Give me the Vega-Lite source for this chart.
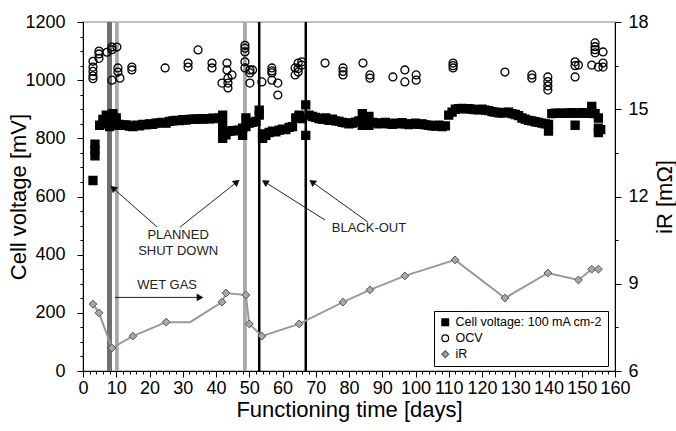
{
  "$schema": "https://vega.github.io/schema/vega-lite/v6.json",
  "width": 532,
  "height": 349,
  "autosize": {"type": "none"},
  "padding": {"left": 83, "top": 22, "right": 61, "bottom": 60},
  "background": "white",
  "config": {
    "font": "Liberation Sans",
    "view": {"stroke": "#aaaaaa", "strokeWidth": 1.5},
    "axis": {
      "domainColor": "black", "tickColor": "black", "labelColor": "black", "titleColor": "black",
      "labelFont": "Liberation Sans", "titleFont": "Liberation Sans",
      "labelFontSize": 18, "titleFontSize": 22, "titleFontWeight": "normal",
      "grid": false, "labelOverlap": false, "labelFlush": false
    },
    "legend": {
      "orient": "none", "legendX": 351, "legendY": 289, "padding": 5,
      "strokeColor": "black", "fillColor": "white", "labelFont": "Liberation Sans",
      "labelFontSize": 12.5, "labelColor": "black", "symbolSize": 45, "rowPadding": 3,
      "symbolStrokeWidth": 1.2, "labelLimit": 300, "title": null, "cornerRadius": 0
    }
  },
  "datasets": {
    "m": [
      {"day":3.0,"value":655,"series":"CV"},
      {"day":3.6,"value":740,"series":"CV"},{"day":3.6,"value":760,"series":"CV"},{"day":3.6,"value":780,"series":"CV"},
      {"day":5,"value":845,"series":"CV"},{"day":6,"value":850,"series":"CV"},{"day":6,"value":865,"series":"CV"},
      {"day":7,"value":855,"series":"CV"},{"day":7,"value":880,"series":"CV"},
      {"day":8,"value":860,"series":"CV"},{"day":8,"value":875,"series":"CV"},{"day":8,"value":840,"series":"CV"},
      {"day":9,"value":850,"series":"CV"},{"day":9,"value":885,"series":"CV"},
      {"day":10,"value":845,"series":"CV"},{"day":10,"value":870,"series":"CV"},
      {"day":11,"value":848,"series":"CV"},{"day":12,"value":845,"series":"CV"},{"day":13,"value":846,"series":"CV"},
      {"day":14,"value":842,"series":"CV"},{"day":15,"value":840,"series":"CV"},{"day":16,"value":845,"series":"CV"},
      {"day":17,"value":843,"series":"CV"},{"day":18,"value":848,"series":"CV"},{"day":19,"value":846,"series":"CV"},
      {"day":20,"value":850,"series":"CV"},{"day":21,"value":848,"series":"CV"},{"day":22,"value":852,"series":"CV"},
      {"day":23,"value":853,"series":"CV"},{"day":24,"value":855,"series":"CV"},{"day":25,"value":852,"series":"CV"},
      {"day":26,"value":858,"series":"CV"},{"day":27,"value":860,"series":"CV"},{"day":28,"value":862,"series":"CV"},
      {"day":29,"value":861,"series":"CV"},{"day":30,"value":864,"series":"CV"},{"day":31,"value":863,"series":"CV"},
      {"day":32,"value":865,"series":"CV"},{"day":33,"value":866,"series":"CV"},{"day":34,"value":866,"series":"CV"},
      {"day":35,"value":867,"series":"CV"},{"day":36,"value":866,"series":"CV"},{"day":37,"value":868,"series":"CV"},
      {"day":38,"value":867,"series":"CV"},{"day":39,"value":869,"series":"CV"},{"day":40,"value":868,"series":"CV"},
      {"day":41,"value":870,"series":"CV"},
      {"day":42,"value":880,"series":"CV"},{"day":42,"value":850,"series":"CV"},{"day":42,"value":800,"series":"CV"},{"day":42,"value":820,"series":"CV"},
      {"day":43,"value":822,"series":"CV"},{"day":43,"value":812,"series":"CV"},{"day":44,"value":825,"series":"CV"},
      {"day":45,"value":826,"series":"CV"},{"day":46,"value":827,"series":"CV"},{"day":47,"value":828,"series":"CV"},
      {"day":48,"value":835,"series":"CV"},{"day":48,"value":810,"series":"CV"},
      {"day":49,"value":870,"series":"CV"},{"day":49,"value":840,"series":"CV"},
      {"day":50,"value":852,"series":"CV"},{"day":51,"value":855,"series":"CV"},{"day":52,"value":858,"series":"CV"},
      {"day":53,"value":880,"series":"CV"},{"day":53,"value":897,"series":"CV"},
      {"day":54,"value":815,"series":"CV"},{"day":54,"value":800,"series":"CV"},{"day":55,"value":810,"series":"CV"},
      {"day":56,"value":820,"series":"CV"},{"day":57,"value":825,"series":"CV"},{"day":58,"value":822,"series":"CV"},
      {"day":59,"value":828,"series":"CV"},{"day":60,"value":832,"series":"CV"},{"day":61,"value":830,"series":"CV"},
      {"day":62,"value":838,"series":"CV"},{"day":63,"value":840,"series":"CV"},{"day":64,"value":870,"series":"CV"},
      {"day":65,"value":875,"series":"CV"},{"day":65,"value":880,"series":"CV"},{"day":66,"value":868,"series":"CV"},
      {"day":67,"value":915,"series":"CV"},{"day":67,"value":810,"series":"CV"},
      {"day":68,"value":880,"series":"CV"},{"day":69,"value":875,"series":"CV"},{"day":70,"value":872,"series":"CV"},
      {"day":71,"value":868,"series":"CV"},{"day":72,"value":865,"series":"CV"},{"day":73,"value":870,"series":"CV"},
      {"day":74,"value":862,"series":"CV"},{"day":75,"value":866,"series":"CV"},{"day":76,"value":860,"series":"CV"},
      {"day":77,"value":858,"series":"CV"},{"day":78,"value":855,"series":"CV"},{"day":79,"value":853,"series":"CV"},
      {"day":80,"value":850,"series":"CV"},{"day":81,"value":852,"series":"CV"},{"day":82,"value":856,"series":"CV"},
      {"day":83,"value":860,"series":"CV"},{"day":84,"value":885,"series":"CV"},{"day":84,"value":845,"series":"CV"},
      {"day":85,"value":862,"series":"CV"},{"day":86,"value":875,"series":"CV"},{"day":86,"value":845,"series":"CV"},
      {"day":87,"value":855,"series":"CV"},{"day":88,"value":853,"series":"CV"},{"day":89,"value":850,"series":"CV"},
      {"day":90,"value":852,"series":"CV"},{"day":91,"value":855,"series":"CV"},{"day":92,"value":850,"series":"CV"},
      {"day":93,"value":848,"series":"CV"},{"day":94,"value":852,"series":"CV"},{"day":95,"value":850,"series":"CV"},
      {"day":96,"value":854,"series":"CV"},{"day":97,"value":850,"series":"CV"},{"day":98,"value":847,"series":"CV"},
      {"day":99,"value":850,"series":"CV"},{"day":100,"value":852,"series":"CV"},{"day":101,"value":848,"series":"CV"},
      {"day":102,"value":850,"series":"CV"},{"day":103,"value":846,"series":"CV"},{"day":104,"value":845,"series":"CV"},
      {"day":105,"value":843,"series":"CV"},{"day":106,"value":842,"series":"CV"},{"day":107,"value":845,"series":"CV"},
      {"day":108,"value":840,"series":"CV"},{"day":109,"value":843,"series":"CV"},{"day":110,"value":880,"series":"CV"},
      {"day":111,"value":890,"series":"CV"},{"day":112,"value":900,"series":"CV"},{"day":113,"value":902,"series":"CV"},
      {"day":114,"value":903,"series":"CV"},{"day":115,"value":901,"series":"CV"},{"day":116,"value":902,"series":"CV"},
      {"day":117,"value":900,"series":"CV"},{"day":118,"value":899,"series":"CV"},{"day":119,"value":898,"series":"CV"},
      {"day":120,"value":900,"series":"CV"},{"day":121,"value":897,"series":"CV"},{"day":122,"value":895,"series":"CV"},
      {"day":123,"value":892,"series":"CV"},{"day":124,"value":890,"series":"CV"},{"day":125,"value":888,"series":"CV"},
      {"day":126,"value":887,"series":"CV"},{"day":127,"value":889,"series":"CV"},{"day":128,"value":890,"series":"CV"},
      {"day":129,"value":885,"series":"CV"},{"day":130,"value":882,"series":"CV"},{"day":131,"value":878,"series":"CV"},
      {"day":132,"value":870,"series":"CV"},{"day":133,"value":866,"series":"CV"},{"day":134,"value":862,"series":"CV"},
      {"day":135,"value":860,"series":"CV"},{"day":136,"value":857,"series":"CV"},{"day":137,"value":855,"series":"CV"},
      {"day":138,"value":852,"series":"CV"},{"day":139,"value":850,"series":"CV"},
      {"day":140,"value":848,"series":"CV"},{"day":140,"value":825,"series":"CV"},
      {"day":141,"value":885,"series":"CV"},{"day":142,"value":887,"series":"CV"},{"day":143,"value":886,"series":"CV"},
      {"day":144,"value":887,"series":"CV"},{"day":145,"value":886,"series":"CV"},{"day":146,"value":887,"series":"CV"},
      {"day":147,"value":888,"series":"CV"},{"day":148,"value":886,"series":"CV"},{"day":148,"value":845,"series":"CV"},
      {"day":149,"value":887,"series":"CV"},{"day":150,"value":888,"series":"CV"},{"day":151,"value":887,"series":"CV"},
      {"day":152,"value":886,"series":"CV"},{"day":153,"value":890,"series":"CV"},{"day":153,"value":910,"series":"CV"},
      {"day":154,"value":885,"series":"CV"},{"day":155,"value":870,"series":"CV"},{"day":155,"value":835,"series":"CV"},
      {"day":155,"value":820,"series":"CV"},{"day":155.7,"value":830,"series":"CV"},

      {"day":3.0,"value":1065,"series":"OCV"},{"day":3.0,"value":1045,"series":"OCV"},{"day":3.0,"value":1030,"series":"OCV"},
      {"day":3.0,"value":1015,"series":"OCV"},{"day":3.0,"value":1005,"series":"OCV"},
      {"day":4.8,"value":1100,"series":"OCV"},{"day":4.8,"value":1090,"series":"OCV"},{"day":4.8,"value":1075,"series":"OCV"},
      {"day":7.2,"value":1096,"series":"OCV"},
      {"day":8.7,"value":1114,"series":"OCV"},{"day":8.7,"value":1105,"series":"OCV"},{"day":8.7,"value":1000,"series":"OCV"},
      {"day":10.2,"value":1114,"series":"OCV"},{"day":10.5,"value":1042,"series":"OCV"},{"day":10.5,"value":1028,"series":"OCV"},
      {"day":11.1,"value":1007,"series":"OCV"},{"day":14.7,"value":1045,"series":"OCV"},{"day":14.7,"value":1035,"series":"OCV"},
      {"day":24.7,"value":1042,"series":"OCV"},{"day":31.6,"value":1059,"series":"OCV"},{"day":31.6,"value":1045,"series":"OCV"},
      {"day":34.6,"value":1104,"series":"OCV"},{"day":38.8,"value":1059,"series":"OCV"},{"day":38.8,"value":1042,"series":"OCV"},
      {"day":41.8,"value":990,"series":"OCV"},{"day":43.3,"value":1059,"series":"OCV"},{"day":43.3,"value":1035,"series":"OCV"},
      {"day":43.6,"value":1007,"series":"OCV"},{"day":43.6,"value":990,"series":"OCV"},{"day":43.6,"value":973,"series":"OCV"},
      {"day":44.8,"value":1018,"series":"OCV"},
      {"day":48.7,"value":1120,"series":"OCV"},{"day":48.7,"value":1110,"series":"OCV"},{"day":48.7,"value":1097,"series":"OCV"},
      {"day":48.7,"value":1063,"series":"OCV"},{"day":48.7,"value":1042,"series":"OCV"},
      {"day":50.2,"value":1035,"series":"OCV"},{"day":50.2,"value":1025,"series":"OCV"},{"day":50.2,"value":990,"series":"OCV"},
      {"day":51,"value":1035,"series":"OCV"},{"day":53.8,"value":994,"series":"OCV"},
      {"day":56.8,"value":1042,"series":"OCV"},{"day":56.8,"value":1032,"series":"OCV"},{"day":56.8,"value":1025,"series":"OCV"},
      {"day":56.8,"value":1000,"series":"OCV"},{"day":58.6,"value":990,"series":"OCV"},{"day":58.6,"value":949,"series":"OCV"},
      {"day":63.8,"value":1042,"series":"OCV"},{"day":63.8,"value":1018,"series":"OCV"},
      {"day":64.7,"value":1059,"series":"OCV"},{"day":64.7,"value":1040,"series":"OCV"},{"day":64.7,"value":1028,"series":"OCV"},
      {"day":65.8,"value":1063,"series":"OCV"},{"day":65.8,"value":1052,"series":"OCV"},
      {"day":72.8,"value":1059,"series":"OCV"},
      {"day":78.2,"value":1042,"series":"OCV"},{"day":78.2,"value":1030,"series":"OCV"},{"day":78.2,"value":1018,"series":"OCV"},
      {"day":84.2,"value":1059,"series":"OCV"},{"day":86.3,"value":1018,"series":"OCV"},{"day":86.3,"value":1007,"series":"OCV"},
      {"day":93.2,"value":1011,"series":"OCV"},{"day":96.8,"value":1035,"series":"OCV"},{"day":96.8,"value":994,"series":"OCV"},
      {"day":100.2,"value":1018,"series":"OCV"},{"day":100.2,"value":1000,"series":"OCV"},
      {"day":111.3,"value":1059,"series":"OCV"},{"day":111.3,"value":1050,"series":"OCV"},{"day":111.3,"value":1042,"series":"OCV"},
      {"day":126.9,"value":1028,"series":"OCV"},{"day":135,"value":1018,"series":"OCV"},{"day":135,"value":1007,"series":"OCV"},
      {"day":139.8,"value":1011,"series":"OCV"},{"day":139.8,"value":995,"series":"OCV"},{"day":139.8,"value":980,"series":"OCV"},
      {"day":139.8,"value":966,"series":"OCV"},
      {"day":148,"value":1063,"series":"OCV"},{"day":148,"value":1050,"series":"OCV"},{"day":148,"value":1011,"series":"OCV"},
      {"day":149,"value":1052,"series":"OCV"},{"day":153,"value":1052,"series":"OCV"},
      {"day":154,"value":1128,"series":"OCV"},{"day":154,"value":1115,"series":"OCV"},{"day":154,"value":1105,"series":"OCV"},
      {"day":154,"value":1094,"series":"OCV"},{"day":155,"value":1045,"series":"OCV"},
      {"day":156.4,"value":1097,"series":"OCV"},{"day":156.4,"value":1059,"series":"OCV"},{"day":156.4,"value":1045,"series":"OCV"},

      {"day":3.0,"value":8.30,"series":"iR"},{"day":4.8,"value":8.0,"series":"iR"},{"day":8.7,"value":6.79,"series":"iR"},
      {"day":15,"value":7.2,"series":"iR"},{"day":25,"value":7.68,"series":"iR"},{"day":32.2,"value":7.68,"series":"iR","measured":false},
      {"day":41.8,"value":8.37,"series":"iR"},{"day":43,"value":8.68,"series":"iR"},{"day":49,"value":8.61,"series":"iR"},
      {"day":50,"value":7.62,"series":"iR"},{"day":53.8,"value":7.2,"series":"iR"},{"day":65,"value":7.62,"series":"iR"},
      {"day":78.2,"value":8.37,"series":"iR"},{"day":86.3,"value":8.79,"series":"iR"},{"day":96.8,"value":9.27,"series":"iR"},
      {"day":111.9,"value":9.82,"series":"iR"},{"day":126.9,"value":8.51,"series":"iR"},{"day":139.8,"value":9.37,"series":"iR"},
      {"day":149,"value":9.13,"series":"iR"},{"day":153,"value":9.5,"series":"iR"},{"day":155,"value":9.5,"series":"iR"}
    ],
    "events": [
      {"day":7.97,"kind":"shutdown-band"},
      {"day":10.2,"kind":"shutdown"},
      {"day":48.7,"kind":"shutdown"},
      {"day":53,"kind":"blackout"},
      {"day":67,"kind":"blackout"}
    ],
    "arrows": [
      {"day":22.3,"value":495,"day2":9.0,"value2":629,"angle":311.6,"kind":"callout"},
      {"day":29.2,"value":495,"day2":46.3,"value2":650,"angle":51.7,"kind":"callout"},
      {"day":72.8,"value":519,"day2":54.7,"value2":650,"angle":302.3,"kind":"callout"},
      {"day":85.7,"value":512,"day2":68.9,"value2":650,"angle":305.5,"kind":"callout"},
      {"day":9.6,"value":253,"day2":35.2,"value2":253,"angle":90,"kind":"wetgas"}
    ],
    "labels": [
      {"day":28.6,"value":468,"text":"PLANNED"},
      {"day":28.6,"value":413,"text":"SHUT DOWN"},
      {"day":86.0,"value":492,"text":"BLACK-OUT"},
      {"day":25.3,"value":296,"text":"WET GAS"}
    ]
  },
  "encoding": {
    "x": {
      "field": "day", "type": "quantitative",
      "scale": {"domain": [0, 160], "nice": false, "zero": false},
      "axis": {
        "title": "Functioning time [days]",
        "values": [0,2,4,6,8,10,12,14,16,18,20,22,24,26,28,30,32,34,36,38,40,42,44,46,48,50,52,54,56,58,60,62,64,66,68,70,72,74,76,78,80,82,84,86,88,90,92,94,96,98,100,102,104,106,108,110,112,114,116,118,120,122,124,126,128,130,132,134,136,138,140,142,144,146,148,150,152,154,156,158,160],
        "labelExpr": "datum.value % 10 === 0 ? datum.label : ''",
        "tickSize": {"condition": {"test": "datum.value % 10 === 0", "value": 6}, "value": 3},
        "labelPadding": 2, "titlePadding": 2
      }
    }
  },
  "layer": [
    {
      "layer": [
        {
          "data": {"name": "events"},
          "mark": {"type": "rule"},
          "encoding": {
            "color": {"field": "kind", "type": "nominal", "scale": {"domain": ["shutdown-band","shutdown","blackout"], "range": ["#707070","#a8a8a8","#000000"]}, "legend": null},
            "strokeWidth": {"field": "kind", "type": "nominal", "scale": {"domain": ["shutdown-band","shutdown","blackout"], "range": [5, 2.5, 3]}, "legend": null}
          }
        },
        {
          "data": {"name": "m"},
          "transform": [{"filter": "datum.series !== 'iR'"}],
          "mark": {"type": "point", "opacity": 1, "strokeWidth": 1.3},
          "encoding": {
            "y": {"field": "value", "type": "quantitative", "scale": {"domain": [0, 1200], "nice": false},
              "axis": {"title": "Cell voltage [mV]", "format": "d", "values": [0,50,100,150,200,250,300,350,400,450,500,550,600,650,700,750,800,850,900,950,1000,1050,1100,1150,1200],
                "labelExpr": "datum.value % 200 === 0 ? datum.label : ''",
                "tickSize": {"condition": {"test": "datum.value % 200 === 0", "value": 6}, "value": 3},
                "labelPadding": 12, "titleX": -65, "titleY": 174.5, "titleBaseline": "middle", "titleAngle": 270}},
            "shape": {"field": "series", "type": "nominal", "scale": {"domain": ["CV","OCV","iR"], "range": ["square","circle","diamond"]},
              "legend": {"labelExpr": "datum.label === 'CV' ? 'Cell voltage: 100 mA cm-2' : datum.label"}},
            "fill": {"field": "series", "type": "nominal", "scale": {"domain": ["CV","OCV","iR"], "range": ["#000000","transparent","#a8a8a8"]},
              "legend": {"labelExpr": "datum.label === 'CV' ? 'Cell voltage: 100 mA cm-2' : datum.label"}},
            "stroke": {"field": "series", "type": "nominal", "scale": {"domain": ["CV","OCV","iR"], "range": ["#000000","#000000","#555555"]},
              "legend": {"labelExpr": "datum.label === 'CV' ? 'Cell voltage: 100 mA cm-2' : datum.label"}},
            "size": {"field": "series", "type": "nominal", "scale": {"domain": ["CV","OCV","iR"], "range": [64, 60, 75]}, "legend": null}
          }
        },
        {
          "data": {"name": "arrows"},
          "mark": {"type": "rule", "color": "#222222", "strokeWidth": 1},
          "encoding": {
            "x2": {"field": "day2"},
            "y": {"field": "value", "type": "quantitative", "scale": {"domain": [0, 1200], "nice": false},
              "axis": {"title": "Cell voltage [mV]", "format": "d", "values": [0,50,100,150,200,250,300,350,400,450,500,550,600,650,700,750,800,850,900,950,1000,1050,1100,1150,1200],
                "labelExpr": "datum.value % 200 === 0 ? datum.label : ''",
                "tickSize": {"condition": {"test": "datum.value % 200 === 0", "value": 6}, "value": 3},
                "labelPadding": 12, "titleX": -65, "titleY": 174.5, "titleBaseline": "middle", "titleAngle": 270}},
            "y2": {"field": "value2"}
          }
        },
        {
          "data": {"name": "arrows"},
          "mark": {"type": "point", "shape": "triangle-up", "filled": true, "color": "#111111", "opacity": 1},
          "encoding": {
            "x": {"field": "day2", "type": "quantitative"},
            "y": {"field": "value2", "type": "quantitative", "scale": {"domain": [0, 1200], "nice": false},
              "axis": {"title": "Cell voltage [mV]", "format": "d", "values": [0,50,100,150,200,250,300,350,400,450,500,550,600,650,700,750,800,850,900,950,1000,1050,1100,1150,1200],
                "labelExpr": "datum.value % 200 === 0 ? datum.label : ''",
                "tickSize": {"condition": {"test": "datum.value % 200 === 0", "value": 6}, "value": 3},
                "labelPadding": 12, "titleX": -65, "titleY": 174.5, "titleBaseline": "middle", "titleAngle": 270}},
            "angle": {"field": "angle", "type": "quantitative", "scale": null},
            "size": {"field": "kind", "type": "nominal", "scale": {"domain": ["callout","wetgas"], "range": [28, 70]}, "legend": null}
          }
        },
        {
          "data": {"name": "labels"},
          "mark": {"type": "text", "fontSize": 13, "color": "#222222", "baseline": "middle", "align": "center"},
          "encoding": {
            "y": {"field": "value", "type": "quantitative", "scale": {"domain": [0, 1200], "nice": false},
              "axis": {"title": "Cell voltage [mV]", "format": "d", "values": [0,50,100,150,200,250,300,350,400,450,500,550,600,650,700,750,800,850,900,950,1000,1050,1100,1150,1200],
                "labelExpr": "datum.value % 200 === 0 ? datum.label : ''",
                "tickSize": {"condition": {"test": "datum.value % 200 === 0", "value": 6}, "value": 3},
                "labelPadding": 12, "titleX": -65, "titleY": 174.5, "titleBaseline": "middle", "titleAngle": 270}},
            "text": {"field": "text"}
          }
        }
      ]
    },
    {
      "data": {"name": "m"},
      "transform": [{"filter": "datum.series === 'iR'"}],
      "layer": [
        {
          "mark": {"type": "line", "color": "#9a9a9a", "strokeWidth": 2},
          "encoding": {
            "y": {"field": "value", "type": "quantitative", "scale": {"domain": [6, 18], "nice": false, "zero": false},
              "axis": {"orient": "right", "title": "iR [mΩ]", "titleAngle": 270, "titleBaseline": "top", "values": [6,7.5,9,10.5,12,13.5,15,16.5,18],
                "labelExpr": "datum.value % 3 === 0 ? datum.label : ''",
                "tickSize": {"condition": {"test": "datum.value % 3 === 0", "value": 6}, "value": 3},
                "labelPadding": 7, "titlePadding": 6}}
          }
        },
        {
          "transform": [{"filter": "datum.measured !== false"}],
          "mark": {"type": "point", "opacity": 1, "strokeWidth": 1},
          "encoding": {
            "y": {"field": "value", "type": "quantitative", "scale": {"domain": [6, 18], "nice": false, "zero": false},
              "axis": {"orient": "right", "title": "iR [mΩ]", "titleAngle": 270, "titleBaseline": "top", "values": [6,7.5,9,10.5,12,13.5,15,16.5,18],
                "labelExpr": "datum.value % 3 === 0 ? datum.label : ''",
                "tickSize": {"condition": {"test": "datum.value % 3 === 0", "value": 6}, "value": 3},
                "labelPadding": 7, "titlePadding": 6}},
            "shape": {"field": "series", "type": "nominal", "scale": {"domain": ["CV","OCV","iR"], "range": ["square","circle","diamond"]},
              "legend": {"labelExpr": "datum.label === 'CV' ? 'Cell voltage: 100 mA cm-2' : datum.label"}},
            "fill": {"field": "series", "type": "nominal", "scale": {"domain": ["CV","OCV","iR"], "range": ["#000000","transparent","#a8a8a8"]},
              "legend": {"labelExpr": "datum.label === 'CV' ? 'Cell voltage: 100 mA cm-2' : datum.label"}},
            "stroke": {"field": "series", "type": "nominal", "scale": {"domain": ["CV","OCV","iR"], "range": ["#000000","#000000","#555555"]},
              "legend": {"labelExpr": "datum.label === 'CV' ? 'Cell voltage: 100 mA cm-2' : datum.label"}},
            "size": {"field": "series", "type": "nominal", "scale": {"domain": ["CV","OCV","iR"], "range": [64, 60, 75]}, "legend": null}
          }
        }
      ]
    }
  ],
  "resolve": {"scale": {"y": "independent"}}
}
